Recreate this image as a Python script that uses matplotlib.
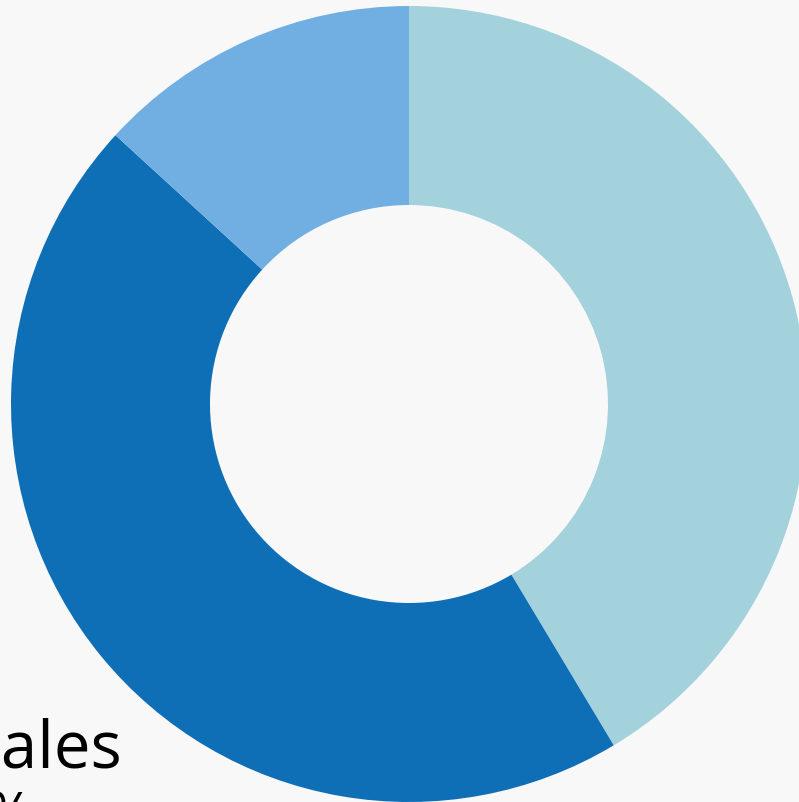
import matplotlib
matplotlib.use("Agg")
import matplotlib.pyplot as plt

# segment shares (clockwise from 12 o'clock)
labels = ["Other", "Sales", "Support"]
values = [41.4, 45.4, 13.2]
colors = ["#a3d1dc", "#0f6fb6", "#71afe2"]

W, H = 799, 803
bg = "#f8f8f8"

fig = plt.figure(figsize=(W / 100, H / 100), dpi=100)
fig.patch.set_facecolor(bg)
ax = fig.add_axes([0, 0, 1, 1])
ax.set_facecolor(bg)

outer = 398
cx, cy = 409, H - 405

ax.pie(values, colors=colors, startangle=90, counterclock=False,
       radius=outer, center=(cx, cy),
       wedgeprops=dict(width=outer * 0.5, linewidth=0))

ax.set_xlim(0, W)
ax.set_ylim(0, H)
ax.set_aspect("equal")
ax.axis("off")

# label of the sales segment, partly off the canvas as in the original
ax.text(-34, H - 768, labels[1], fontsize=47, family="Open Sans",
        color="black", ha="left", va="baseline")
ax.text(-76, H - 834, "%.0f%%" % values[1], fontsize=40, family="Open Sans",
        color="black", ha="left", va="baseline")

fig.savefig("out.png", dpi=100, facecolor=bg)
